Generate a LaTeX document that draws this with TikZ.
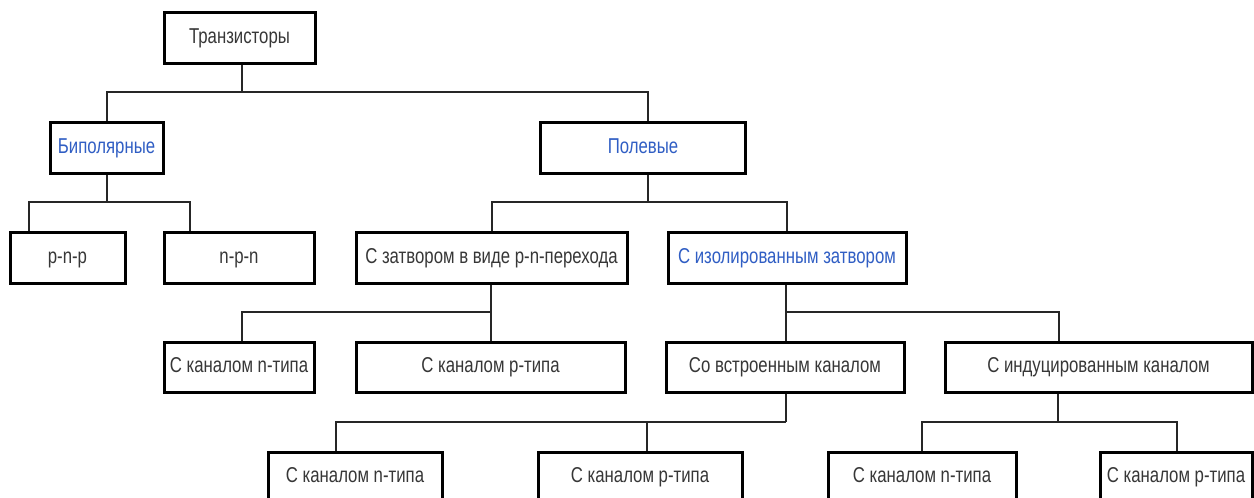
\documentclass[tikz,border=0pt]{standalone}
\usepackage{fontspec}
\setmainfont[FakeStretch=0.78]{Liberation Sans}
\definecolor{txtgray}{RGB}{55,55,55}
\definecolor{txtblue}{RGB}{48,94,196}
\begin{document}
\begin{tikzpicture}[x=1pt,y=-1pt,
  box/.style={draw=black, line width=3pt, fill=white, inner sep=0pt, text=txtgray,
    text height=15.5pt, text depth=4.5pt,
    font=\fontsize{21.5}{24}\selectfont},
  bluebox/.style={box, text=txtblue},
  conn/.style={draw=black!85, line width=1.3pt}]
\useasboundingbox (0,0) rectangle (1254,498);
\fill[white] (0,0) rectangle (1254,498);
% nodes: centre = ((l+r)/2,(t+b)/2), size = (r-l, b-t)
\node[box, minimum width=151pt, minimum height=51pt] (T) at (239.5,38) {Транзисторы};
\node[bluebox, minimum width=113pt, minimum height=51pt] (Bip) at (106.5,148) {Биполярные};
\node[bluebox, minimum width=205pt, minimum height=51pt] (Pol) at (643,148) {Полевые};
\node[box, minimum width=115pt, minimum height=51pt] (pnp) at (67.5,257.5) {p-n-p};
\node[box, minimum width=150pt, minimum height=51pt] (npn) at (239,257.5) {n-p-n};
\node[box, minimum width=271pt, minimum height=51pt] (PN) at (491.5,257.5) {С затвором в виде p-n-перехода};
\node[bluebox, minimum width=238pt, minimum height=51pt] (Iso) at (787,257.5) {С изолированным затвором};
\node[box, minimum width=150pt, minimum height=50pt] (Nc1) at (239,367) {С каналом n-типа};
\node[box, minimum width=269pt, minimum height=50pt] (Pc1) at (490.5,367) {С каналом p-типа};
\node[box, minimum width=238pt, minimum height=50pt] (Emb) at (785,367) {Со встроенным каналом};
\node[box, minimum width=307pt, minimum height=50pt] (Ind) at (1098.5,367) {С индуцированным каналом};
\node[box, minimum width=174pt, minimum height=50pt] (Nc2) at (355,477) {С каналом n-типа};
\node[box, minimum width=204pt, minimum height=50pt] (Pc2) at (640,477) {С каналом p-типа};
\node[box, minimum width=188pt, minimum height=50pt] (Nc3) at (922,477) {С каналом n-типа};
\node[box, minimum width=152pt, minimum height=50pt] (Pc3) at (1176,477) {С каналом p-типа};
% junction coordinates
\coordinate (a0) at (242,92);  \coordinate (aL) at (107,92);  \coordinate (aR) at (648,92);
\coordinate (b0) at (107,202); \coordinate (bL) at (29,202);  \coordinate (bR) at (190,202);
\coordinate (c0) at (648,202); \coordinate (cL) at (492,202); \coordinate (cR) at (787,202);
\coordinate (d0) at (491,312); \coordinate (dL) at (242,312); \coordinate (dR) at (491,312);
\coordinate (e0) at (786,312); \coordinate (eL) at (786,312); \coordinate (eR) at (1059,312);
\coordinate (f0) at (786,422); \coordinate (fL) at (336,422); \coordinate (fR) at (647,422);
\coordinate (g0) at (1058,422);\coordinate (gL) at (922,422); \coordinate (gR) at (1177,422);
% T -> Bip, Pol
\draw[conn] (T.south -| a0) -- (a0);
\draw[conn] (Bip.north -| aL) |- (aR) -- (Pol.north -| aR);
% Bip -> pnp, npn
\draw[conn] (Bip.south -| b0) -- (b0);
\draw[conn] (pnp.north -| bL) |- (bR) -- (npn.north -| bR);
% Pol -> PN, Iso
\draw[conn] (Pol.south -| c0) -- (c0);
\draw[conn] (PN.north -| cL) |- (cR) -- (Iso.north -| cR);
% PN -> Nc1, Pc1
\draw[conn] (PN.south -| d0) -- (d0);
\draw[conn] (Nc1.north -| dL) |- (dR) -- (Pc1.north -| dR);
% Iso -> Emb, Ind
\draw[conn] (Iso.south -| e0) -- (e0);
\draw[conn] (Emb.north -| eL) |- (eR) -- (Ind.north -| eR);
% Emb -> Nc2, Pc2
\draw[conn] (Emb.south -| f0) -- (f0);
\draw[conn] (Nc2.north -| fL) |- (f0);
\draw[conn] (fR) -- (Pc2.north -| fR);
% Ind -> Nc3, Pc3
\draw[conn] (Ind.south -| g0) -- (g0);
\draw[conn] (Nc3.north -| gL) |- (gR) -- (Pc3.north -| gR);
\end{tikzpicture}
\end{document}
